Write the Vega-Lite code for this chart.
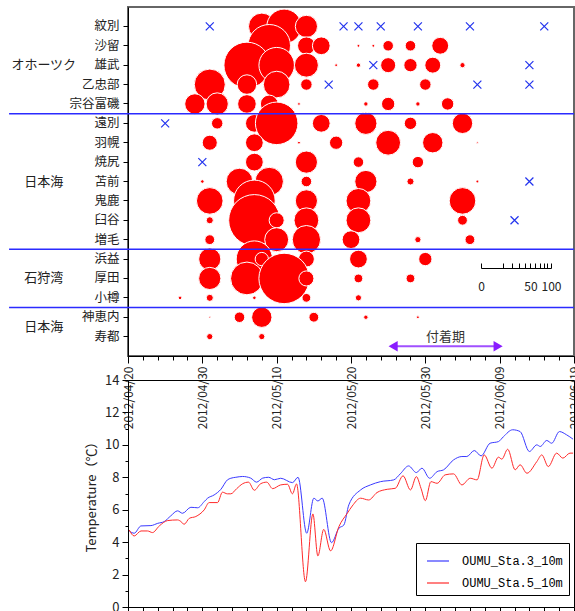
{
  "$schema": "https://vega.github.io/schema/vega-lite/v6.json",
  "padding": {"left": 7, "top": 6, "right": 0, "bottom": 0},
  "bounds": "flush",
  "spacing": 24,
  "resolve": {"legend": {"color": "independent", "size": "independent"}},
  "config": {
    "font": "Noto Sans CJK JP",
    "view": {"stroke": null},
    "axis": {"domainColor": "#000", "tickColor": "#000", "labelColor": "#222", "grid": false, "labelFont": "Noto Sans CJK JP", "titleFont": "Noto Sans CJK JP", "labelOverlap": false}
  },
  "datasets": {
    "catch": [
      {"station": "紋別", "date": "2012/05/08", "value": 18.4},
      {"station": "紋別", "date": "2012/05/11", "value": 31},
      {"station": "紋別", "date": "2012/05/14", "value": 12.8},
      {"station": "沙留", "date": "2012/05/09", "value": 47},
      {"station": "沙留", "date": "2012/05/14", "value": 8.2},
      {"station": "沙留", "date": "2012/05/16", "value": 8.2},
      {"station": "沙留", "date": "2012/05/21", "value": 0.2},
      {"station": "沙留", "date": "2012/05/23", "value": 0.2},
      {"station": "沙留", "date": "2012/05/25", "value": 2.9},
      {"station": "沙留", "date": "2012/05/28", "value": 2.9},
      {"station": "沙留", "date": "2012/06/01", "value": 7.4},
      {"station": "雄武", "date": "2012/05/06", "value": 55},
      {"station": "雄武", "date": "2012/05/10", "value": 32.7},
      {"station": "雄武", "date": "2012/05/14", "value": 14.9},
      {"station": "雄武", "date": "2012/05/18", "value": 0.2},
      {"station": "雄武", "date": "2012/05/21", "value": 0.5},
      {"station": "雄武", "date": "2012/05/25", "value": 5.9},
      {"station": "雄武", "date": "2012/05/28", "value": 4.6},
      {"station": "雄武", "date": "2012/05/31", "value": 6.6},
      {"station": "雄武", "date": "2012/06/04", "value": 0.7},
      {"station": "乙忠部", "date": "2012/05/01", "value": 25},
      {"station": "乙忠部", "date": "2012/05/06", "value": 9.9},
      {"station": "乙忠部", "date": "2012/05/10", "value": 18.4},
      {"station": "乙忠部", "date": "2012/05/14", "value": 3.4},
      {"station": "乙忠部", "date": "2012/05/23", "value": 3.4},
      {"station": "乙忠部", "date": "2012/05/30", "value": 3.4},
      {"station": "宗谷富磯", "date": "2012/04/29", "value": 10.8},
      {"station": "宗谷富磯", "date": "2012/05/02", "value": 12.8},
      {"station": "宗谷富磯", "date": "2012/05/06", "value": 9},
      {"station": "宗谷富磯", "date": "2012/05/09", "value": 8.2},
      {"station": "宗谷富磯", "date": "2012/05/13", "value": 0.2},
      {"station": "宗谷富磯", "date": "2012/05/22", "value": 0.5},
      {"station": "宗谷富磯", "date": "2012/05/25", "value": 4.6},
      {"station": "宗谷富磯", "date": "2012/05/29", "value": 0.5},
      {"station": "宗谷富磯", "date": "2012/06/02", "value": 4},
      {"station": "遠別", "date": "2012/05/02", "value": 3.4},
      {"station": "遠別", "date": "2012/05/07", "value": 8.2},
      {"station": "遠別", "date": "2012/05/10", "value": 47},
      {"station": "遠別", "date": "2012/05/16", "value": 8.2},
      {"station": "遠別", "date": "2012/05/22", "value": 12.8},
      {"station": "遠別", "date": "2012/05/28", "value": 4},
      {"station": "遠別", "date": "2012/06/04", "value": 10.8},
      {"station": "羽幌", "date": "2012/05/01", "value": 5.9},
      {"station": "羽幌", "date": "2012/05/07", "value": 8.2},
      {"station": "羽幌", "date": "2012/05/13", "value": 0.2},
      {"station": "羽幌", "date": "2012/05/18", "value": 4.6},
      {"station": "羽幌", "date": "2012/05/25", "value": 16},
      {"station": "羽幌", "date": "2012/05/31", "value": 10.8},
      {"station": "羽幌", "date": "2012/06/06", "value": 0.08},
      {"station": "焼尻", "date": "2012/05/07", "value": 8.2},
      {"station": "焼尻", "date": "2012/05/14", "value": 12.8},
      {"station": "焼尻", "date": "2012/05/21", "value": 2.9},
      {"station": "焼尻", "date": "2012/05/29", "value": 3.4},
      {"station": "苫前", "date": "2012/04/30", "value": 0.33},
      {"station": "苫前", "date": "2012/05/05", "value": 18.4},
      {"station": "苫前", "date": "2012/05/09", "value": 20.9},
      {"station": "苫前", "date": "2012/05/14", "value": 2.9},
      {"station": "苫前", "date": "2012/05/22", "value": 12.8},
      {"station": "苫前", "date": "2012/05/28", "value": 1.3},
      {"station": "苫前", "date": "2012/06/06", "value": 0.2},
      {"station": "鬼鹿", "date": "2012/05/01", "value": 18.4},
      {"station": "鬼鹿", "date": "2012/05/07", "value": 45},
      {"station": "鬼鹿", "date": "2012/05/14", "value": 12.8},
      {"station": "鬼鹿", "date": "2012/05/21", "value": 16},
      {"station": "鬼鹿", "date": "2012/06/04", "value": 18.4},
      {"station": "臼谷", "date": "2012/05/01", "value": 1.3},
      {"station": "臼谷", "date": "2012/05/07", "value": 68.6},
      {"station": "臼谷", "date": "2012/05/10", "value": 5.9},
      {"station": "臼谷", "date": "2012/05/14", "value": 16},
      {"station": "臼谷", "date": "2012/05/21", "value": 16},
      {"station": "臼谷", "date": "2012/06/04", "value": 2.5},
      {"station": "増毛", "date": "2012/05/01", "value": 2.5},
      {"station": "増毛", "date": "2012/05/10", "value": 14.9},
      {"station": "増毛", "date": "2012/05/14", "value": 20.9},
      {"station": "増毛", "date": "2012/05/20", "value": 8.2},
      {"station": "増毛", "date": "2012/05/29", "value": 1},
      {"station": "増毛", "date": "2012/06/05", "value": 2.5},
      {"station": "浜益", "date": "2012/05/01", "value": 12.8},
      {"station": "浜益", "date": "2012/05/07", "value": 34.3},
      {"station": "浜益", "date": "2012/05/08", "value": 4.6},
      {"station": "浜益", "date": "2012/05/14", "value": 6.6},
      {"station": "浜益", "date": "2012/05/21", "value": 8.2},
      {"station": "浜益", "date": "2012/05/30", "value": 4.6},
      {"station": "厚田", "date": "2012/05/01", "value": 12.8},
      {"station": "厚田", "date": "2012/05/06", "value": 27.9},
      {"station": "厚田", "date": "2012/05/11", "value": 66},
      {"station": "厚田", "date": "2012/05/14", "value": 5.9},
      {"station": "厚田", "date": "2012/05/21", "value": 2},
      {"station": "厚田", "date": "2012/05/28", "value": 2},
      {"station": "小樽", "date": "2012/04/27", "value": 0.33},
      {"station": "小樽", "date": "2012/05/01", "value": 1.3},
      {"station": "小樽", "date": "2012/05/07", "value": 0.33},
      {"station": "小樽", "date": "2012/05/14", "value": 2},
      {"station": "小樽", "date": "2012/05/21", "value": 1},
      {"station": "神恵内", "date": "2012/05/01", "value": 0.08},
      {"station": "神恵内", "date": "2012/05/05", "value": 2.9},
      {"station": "神恵内", "date": "2012/05/08", "value": 10.8},
      {"station": "神恵内", "date": "2012/05/15", "value": 2.5},
      {"station": "神恵内", "date": "2012/05/22", "value": 0.5},
      {"station": "神恵内", "date": "2012/05/29", "value": 0.2},
      {"station": "寿都", "date": "2012/05/01", "value": 1},
      {"station": "寿都", "date": "2012/05/08", "value": 1}
    ],
    "none": [
      {"station": "紋別", "date": "2012/05/01"},
      {"station": "紋別", "date": "2012/05/19"},
      {"station": "紋別", "date": "2012/05/21"},
      {"station": "紋別", "date": "2012/05/24"},
      {"station": "紋別", "date": "2012/05/29"},
      {"station": "紋別", "date": "2012/06/05"},
      {"station": "紋別", "date": "2012/06/15"},
      {"station": "雄武", "date": "2012/05/23"},
      {"station": "雄武", "date": "2012/06/13"},
      {"station": "乙忠部", "date": "2012/05/17"},
      {"station": "乙忠部", "date": "2012/06/06"},
      {"station": "乙忠部", "date": "2012/06/13"},
      {"station": "遠別", "date": "2012/04/25"},
      {"station": "焼尻", "date": "2012/04/30"},
      {"station": "苫前", "date": "2012/06/13"},
      {"station": "臼谷", "date": "2012/06/11"}
    ],
    "temp": [
      {"series": "OUMU_Sta.3_10m", "t": "2012/04/20 04:00", "temp": 4.69},
      {"series": "OUMU_Sta.3_10m", "t": "2012/04/20 20:00", "temp": 4.55},
      {"series": "OUMU_Sta.3_10m", "t": "2012/04/21 18:00", "temp": 5.0},
      {"series": "OUMU_Sta.3_10m", "t": "2012/04/23 02:00", "temp": 5.02},
      {"series": "OUMU_Sta.3_10m", "t": "2012/04/24 00:00", "temp": 5.16},
      {"series": "OUMU_Sta.3_10m", "t": "2012/04/24 21:00", "temp": 5.27},
      {"series": "OUMU_Sta.3_10m", "t": "2012/04/25 18:00", "temp": 5.62},
      {"series": "OUMU_Sta.3_10m", "t": "2012/04/26 16:00", "temp": 5.93},
      {"series": "OUMU_Sta.3_10m", "t": "2012/04/27 08:00", "temp": 5.78},
      {"series": "OUMU_Sta.3_10m", "t": "2012/04/28 11:00", "temp": 6.15},
      {"series": "OUMU_Sta.3_10m", "t": "2012/04/29 09:00", "temp": 6.12},
      {"series": "OUMU_Sta.3_10m", "t": "2012/04/30 06:00", "temp": 6.5},
      {"series": "OUMU_Sta.3_10m", "t": "2012/04/30 17:00", "temp": 6.71},
      {"series": "OUMU_Sta.3_10m", "t": "2012/05/01 14:00", "temp": 6.91},
      {"series": "OUMU_Sta.3_10m", "t": "2012/05/02 12:00", "temp": 7.26},
      {"series": "OUMU_Sta.3_10m", "t": "2012/05/03 09:00", "temp": 7.84},
      {"series": "OUMU_Sta.3_10m", "t": "2012/05/03 20:00", "temp": 7.94},
      {"series": "OUMU_Sta.3_10m", "t": "2012/05/04 12:00", "temp": 8.0},
      {"series": "OUMU_Sta.3_10m", "t": "2012/05/05 10:00", "temp": 8.05},
      {"series": "OUMU_Sta.3_10m", "t": "2012/05/06 12:00", "temp": 7.95},
      {"series": "OUMU_Sta.3_10m", "t": "2012/05/07 07:00", "temp": 7.7},
      {"series": "OUMU_Sta.3_10m", "t": "2012/05/08 03:00", "temp": 7.95},
      {"series": "OUMU_Sta.3_10m", "t": "2012/05/08 22:00", "temp": 8.0},
      {"series": "OUMU_Sta.3_10m", "t": "2012/05/09 17:00", "temp": 7.85},
      {"series": "OUMU_Sta.3_10m", "t": "2012/05/10 13:00", "temp": 7.94},
      {"series": "OUMU_Sta.3_10m", "t": "2012/05/12 03:00", "temp": 7.67},
      {"series": "OUMU_Sta.3_10m", "t": "2012/05/12 21:00", "temp": 8.0},
      {"series": "OUMU_Sta.3_10m", "t": "2012/05/14 01:00", "temp": 4.55},
      {"series": "OUMU_Sta.3_10m", "t": "2012/05/15 00:00", "temp": 6.71},
      {"series": "OUMU_Sta.3_10m", "t": "2012/05/15 13:00", "temp": 6.54},
      {"series": "OUMU_Sta.3_10m", "t": "2012/05/16 03:00", "temp": 6.71},
      {"series": "OUMU_Sta.3_10m", "t": "2012/05/17 09:00", "temp": 3.97},
      {"series": "OUMU_Sta.3_10m", "t": "2012/05/18 09:00", "temp": 4.86},
      {"series": "OUMU_Sta.3_10m", "t": "2012/05/19 01:00", "temp": 5.06},
      {"series": "OUMU_Sta.3_10m", "t": "2012/05/19 17:00", "temp": 6.3},
      {"series": "OUMU_Sta.3_10m", "t": "2012/05/21 07:00", "temp": 7.22},
      {"series": "OUMU_Sta.3_10m", "t": "2012/05/22 15:00", "temp": 7.53},
      {"series": "OUMU_Sta.3_10m", "t": "2012/05/23 23:00", "temp": 7.73},
      {"series": "OUMU_Sta.3_10m", "t": "2012/05/25 18:00", "temp": 7.84},
      {"series": "OUMU_Sta.3_10m", "t": "2012/05/26 15:00", "temp": 8.21},
      {"series": "OUMU_Sta.3_10m", "t": "2012/05/27 18:00", "temp": 8.7},
      {"series": "OUMU_Sta.3_10m", "t": "2012/05/28 19:00", "temp": 8.29},
      {"series": "OUMU_Sta.3_10m", "t": "2012/05/29 13:00", "temp": 8.56},
      {"series": "OUMU_Sta.3_10m", "t": "2012/05/30 14:00", "temp": 7.94},
      {"series": "OUMU_Sta.3_10m", "t": "2012/05/31 14:00", "temp": 8.35},
      {"series": "OUMU_Sta.3_10m", "t": "2012/06/01 11:00", "temp": 8.46},
      {"series": "OUMU_Sta.3_10m", "t": "2012/06/02 19:00", "temp": 9.07},
      {"series": "OUMU_Sta.3_10m", "t": "2012/06/03 22:00", "temp": 9.28},
      {"series": "OUMU_Sta.3_10m", "t": "2012/06/04 14:00", "temp": 9.28},
      {"series": "OUMU_Sta.3_10m", "t": "2012/06/05 14:00", "temp": 9.65},
      {"series": "OUMU_Sta.3_10m", "t": "2012/06/06 12:00", "temp": 9.32},
      {"series": "OUMU_Sta.3_10m", "t": "2012/06/07 17:00", "temp": 10.1},
      {"series": "OUMU_Sta.3_10m", "t": "2012/06/08 20:00", "temp": 10.2},
      {"series": "OUMU_Sta.3_10m", "t": "2012/06/09 12:00", "temp": 10.5},
      {"series": "OUMU_Sta.3_10m", "t": "2012/06/10 18:00", "temp": 10.93},
      {"series": "OUMU_Sta.3_10m", "t": "2012/06/11 18:00", "temp": 10.82},
      {"series": "OUMU_Sta.3_10m", "t": "2012/06/13 00:00", "temp": 9.59},
      {"series": "OUMU_Sta.3_10m", "t": "2012/06/14 00:00", "temp": 10.0},
      {"series": "OUMU_Sta.3_10m", "t": "2012/06/14 11:00", "temp": 9.9},
      {"series": "OUMU_Sta.3_10m", "t": "2012/06/15 08:00", "temp": 10.27},
      {"series": "OUMU_Sta.3_10m", "t": "2012/06/16 00:00", "temp": 10.1},
      {"series": "OUMU_Sta.3_10m", "t": "2012/06/17 01:00", "temp": 10.82},
      {"series": "OUMU_Sta.3_10m", "t": "2012/06/18 00:00", "temp": 10.62},
      {"series": "OUMU_Sta.3_10m", "t": "2012/06/18 21:00", "temp": 10.35},
      {"series": "OUMU_Sta.5_10m", "t": "2012/04/20 04:00", "temp": 4.75},
      {"series": "OUMU_Sta.5_10m", "t": "2012/04/20 20:00", "temp": 4.38},
      {"series": "OUMU_Sta.5_10m", "t": "2012/04/21 18:00", "temp": 4.69},
      {"series": "OUMU_Sta.5_10m", "t": "2012/04/22 15:00", "temp": 4.69},
      {"series": "OUMU_Sta.5_10m", "t": "2012/04/23 07:00", "temp": 4.59},
      {"series": "OUMU_Sta.5_10m", "t": "2012/04/24 05:00", "temp": 5.0},
      {"series": "OUMU_Sta.5_10m", "t": "2012/04/25 08:00", "temp": 5.33},
      {"series": "OUMU_Sta.5_10m", "t": "2012/04/26 16:00", "temp": 5.37},
      {"series": "OUMU_Sta.5_10m", "t": "2012/04/27 03:00", "temp": 5.27},
      {"series": "OUMU_Sta.5_10m", "t": "2012/04/27 13:00", "temp": 5.1},
      {"series": "OUMU_Sta.5_10m", "t": "2012/04/28 06:00", "temp": 5.47},
      {"series": "OUMU_Sta.5_10m", "t": "2012/04/29 03:00", "temp": 5.58},
      {"series": "OUMU_Sta.5_10m", "t": "2012/04/30 06:00", "temp": 5.99},
      {"series": "OUMU_Sta.5_10m", "t": "2012/04/30 22:00", "temp": 6.44},
      {"series": "OUMU_Sta.5_10m", "t": "2012/05/02 01:00", "temp": 6.44},
      {"series": "OUMU_Sta.5_10m", "t": "2012/05/02 17:00", "temp": 7.08},
      {"series": "OUMU_Sta.5_10m", "t": "2012/05/03 09:00", "temp": 6.98},
      {"series": "OUMU_Sta.5_10m", "t": "2012/05/03 20:00", "temp": 6.98},
      {"series": "OUMU_Sta.5_10m", "t": "2012/05/04 15:00", "temp": 7.3},
      {"series": "OUMU_Sta.5_10m", "t": "2012/05/05 10:00", "temp": 7.6},
      {"series": "OUMU_Sta.5_10m", "t": "2012/05/06 05:00", "temp": 7.7},
      {"series": "OUMU_Sta.5_10m", "t": "2012/05/07 00:00", "temp": 7.2},
      {"series": "OUMU_Sta.5_10m", "t": "2012/05/07 20:00", "temp": 7.6},
      {"series": "OUMU_Sta.5_10m", "t": "2012/05/08 16:00", "temp": 7.7},
      {"series": "OUMU_Sta.5_10m", "t": "2012/05/09 11:00", "temp": 7.3},
      {"series": "OUMU_Sta.5_10m", "t": "2012/05/10 13:00", "temp": 7.53},
      {"series": "OUMU_Sta.5_10m", "t": "2012/05/11 11:00", "temp": 7.57},
      {"series": "OUMU_Sta.5_10m", "t": "2012/05/12 03:00", "temp": 6.98},
      {"series": "OUMU_Sta.5_10m", "t": "2012/05/12 16:00", "temp": 7.59},
      {"series": "OUMU_Sta.5_10m", "t": "2012/05/13 21:00", "temp": 1.56},
      {"series": "OUMU_Sta.5_10m", "t": "2012/05/14 21:00", "temp": 5.74},
      {"series": "OUMU_Sta.5_10m", "t": "2012/05/15 13:00", "temp": 3.15},
      {"series": "OUMU_Sta.5_10m", "t": "2012/05/16 08:00", "temp": 4.79},
      {"series": "OUMU_Sta.5_10m", "t": "2012/05/17 06:00", "temp": 3.46},
      {"series": "OUMU_Sta.5_10m", "t": "2012/05/18 09:00", "temp": 4.96},
      {"series": "OUMU_Sta.5_10m", "t": "2012/05/19 12:00", "temp": 5.78},
      {"series": "OUMU_Sta.5_10m", "t": "2012/05/20 04:00", "temp": 6.23},
      {"series": "OUMU_Sta.5_10m", "t": "2012/05/21 07:00", "temp": 6.71},
      {"series": "OUMU_Sta.5_10m", "t": "2012/05/22 09:00", "temp": 6.6},
      {"series": "OUMU_Sta.5_10m", "t": "2012/05/23 12:00", "temp": 7.06},
      {"series": "OUMU_Sta.5_10m", "t": "2012/05/24 21:00", "temp": 7.26},
      {"series": "OUMU_Sta.5_10m", "t": "2012/05/25 23:00", "temp": 7.32},
      {"series": "OUMU_Sta.5_10m", "t": "2012/05/27 00:00", "temp": 8.09},
      {"series": "OUMU_Sta.5_10m", "t": "2012/05/28 00:00", "temp": 7.22},
      {"series": "OUMU_Sta.5_10m", "t": "2012/05/28 19:00", "temp": 8.04},
      {"series": "OUMU_Sta.5_10m", "t": "2012/05/29 10:00", "temp": 7.32},
      {"series": "OUMU_Sta.5_10m", "t": "2012/05/30 00:00", "temp": 6.56},
      {"series": "OUMU_Sta.5_10m", "t": "2012/05/30 18:00", "temp": 7.73},
      {"series": "OUMU_Sta.5_10m", "t": "2012/05/31 14:00", "temp": 7.63},
      {"series": "OUMU_Sta.5_10m", "t": "2012/06/01 16:00", "temp": 8.15},
      {"series": "OUMU_Sta.5_10m", "t": "2012/06/02 19:00", "temp": 8.21},
      {"series": "OUMU_Sta.5_10m", "t": "2012/06/03 22:00", "temp": 7.53},
      {"series": "OUMU_Sta.5_10m", "t": "2012/06/05 01:00", "temp": 7.94},
      {"series": "OUMU_Sta.5_10m", "t": "2012/06/05 23:00", "temp": 7.84},
      {"series": "OUMU_Sta.5_10m", "t": "2012/06/06 22:00", "temp": 9.38},
      {"series": "OUMU_Sta.5_10m", "t": "2012/06/07 23:00", "temp": 8.56},
      {"series": "OUMU_Sta.5_10m", "t": "2012/06/08 20:00", "temp": 9.24},
      {"series": "OUMU_Sta.5_10m", "t": "2012/06/09 07:00", "temp": 9.12},
      {"series": "OUMU_Sta.5_10m", "t": "2012/06/10 02:00", "temp": 9.73},
      {"series": "OUMU_Sta.5_10m", "t": "2012/06/11 02:00", "temp": 8.46},
      {"series": "OUMU_Sta.5_10m", "t": "2012/06/11 18:00", "temp": 8.77},
      {"series": "OUMU_Sta.5_10m", "t": "2012/06/12 16:00", "temp": 8.25},
      {"series": "OUMU_Sta.5_10m", "t": "2012/06/14 00:00", "temp": 8.97},
      {"series": "OUMU_Sta.5_10m", "t": "2012/06/14 16:00", "temp": 9.38},
      {"series": "OUMU_Sta.5_10m", "t": "2012/06/15 13:00", "temp": 8.66},
      {"series": "OUMU_Sta.5_10m", "t": "2012/06/16 16:00", "temp": 9.49},
      {"series": "OUMU_Sta.5_10m", "t": "2012/06/17 12:00", "temp": 9.18},
      {"series": "OUMU_Sta.5_10m", "t": "2012/06/18 11:00", "temp": 9.49},
      {"series": "OUMU_Sta.5_10m", "t": "2012/06/18 21:00", "temp": 9.49}
    ]
  },
  "vconcat": [
    {
      "width": 446,
      "height": 349,
      "view": {"stroke": "#666", "strokeWidth": 2},
      "layer": [
        {
          "layer": [
            {
              "data": {"name": "catch"},
              "mark": {"type": "point", "filled": true, "shape": "circle", "color": "#ff0000", "stroke": "#ffffff", "strokeWidth": 1, "opacity": 1},
              "encoding": {
                "x": {"field": "date", "type": "temporal",
                  "scale": {"domain": [{"year": 2012, "month": 4, "date": 20}, {"year": 2012, "month": 6, "date": 19}], "nice": false},
                  "axis": {"title": null, "values": [{"year": 2012, "month": 4, "date": 20}, {"year": 2012, "month": 4, "date": 22}, {"year": 2012, "month": 4, "date": 24}, {"year": 2012, "month": 4, "date": 26}, {"year": 2012, "month": 4, "date": 28}, {"year": 2012, "month": 4, "date": 30}, {"year": 2012, "month": 5, "date": 2}, {"year": 2012, "month": 5, "date": 4}, {"year": 2012, "month": 5, "date": 6}, {"year": 2012, "month": 5, "date": 8}, {"year": 2012, "month": 5, "date": 10}, {"year": 2012, "month": 5, "date": 12}, {"year": 2012, "month": 5, "date": 14}, {"year": 2012, "month": 5, "date": 16}, {"year": 2012, "month": 5, "date": 18}, {"year": 2012, "month": 5, "date": 20}, {"year": 2012, "month": 5, "date": 22}, {"year": 2012, "month": 5, "date": 24}, {"year": 2012, "month": 5, "date": 26}, {"year": 2012, "month": 5, "date": 28}, {"year": 2012, "month": 5, "date": 30}, {"year": 2012, "month": 6, "date": 1}, {"year": 2012, "month": 6, "date": 3}, {"year": 2012, "month": 6, "date": 5}, {"year": 2012, "month": 6, "date": 7}, {"year": 2012, "month": 6, "date": 9}, {"year": 2012, "month": 6, "date": 11}, {"year": 2012, "month": 6, "date": 13}, {"year": 2012, "month": 6, "date": 15}, {"year": 2012, "month": 6, "date": 17}, {"year": 2012, "month": 6, "date": 19}], "labelExpr": "indexof(['04/20','04/30','05/10','05/20','05/30','06/09','06/19'], timeFormat(datum.value, '%m/%d')) >= 0 ? timeFormat(datum.value, '%Y/%m/%d') : ''", "tickSize": {"condition": {"test": "indexof(['04/20','04/30','05/10','05/20','05/30','06/09','06/19'], timeFormat(datum.value, '%m/%d')) >= 0", "value": 7}, "value": 4}, "labelAngle": 270, "labelFontSize": 12, "labelPadding": 3, "labelOverlap": false, "labelFlush": false, "labelBound": false}
                },
                "y": {"field": "station", "type": "nominal",
                  "scale": {"type": "band", "paddingInner": 0, "paddingOuter": 0.5, "domain": ["紋別", "沙留", "雄武", "乙忠部", "宗谷富磯", "遠別", "羽幌", "焼尻", "苫前", "鬼鹿", "臼谷", "増毛", "浜益", "厚田", "小樽", "神恵内", "寿都"]},
                  "axis": {"title": null, "labelFontSize": 12.5, "labelPadding": 4, "tickSize": 5, "labelColor": "#222"}
                },
                "size": {"field": "value", "type": "quantitative", "scale": {"domain": [0, 100], "range": [0, 3848], "zero": true}, "legend": null}
              }
            },
            {
              "data": {"name": "none"},
              "mark": {"type": "point", "shape": "M-1,-1L1,1M-1,1L1,-1", "filled": false, "stroke": "#2233ee", "strokeWidth": 1.2, "size": 64, "opacity": 1},
              "encoding": {
                "x": {"field": "date", "type": "temporal",
                  "axis": {"title": null, "values": [{"year": 2012, "month": 4, "date": 20}, {"year": 2012, "month": 4, "date": 22}, {"year": 2012, "month": 4, "date": 24}, {"year": 2012, "month": 4, "date": 26}, {"year": 2012, "month": 4, "date": 28}, {"year": 2012, "month": 4, "date": 30}, {"year": 2012, "month": 5, "date": 2}, {"year": 2012, "month": 5, "date": 4}, {"year": 2012, "month": 5, "date": 6}, {"year": 2012, "month": 5, "date": 8}, {"year": 2012, "month": 5, "date": 10}, {"year": 2012, "month": 5, "date": 12}, {"year": 2012, "month": 5, "date": 14}, {"year": 2012, "month": 5, "date": 16}, {"year": 2012, "month": 5, "date": 18}, {"year": 2012, "month": 5, "date": 20}, {"year": 2012, "month": 5, "date": 22}, {"year": 2012, "month": 5, "date": 24}, {"year": 2012, "month": 5, "date": 26}, {"year": 2012, "month": 5, "date": 28}, {"year": 2012, "month": 5, "date": 30}, {"year": 2012, "month": 6, "date": 1}, {"year": 2012, "month": 6, "date": 3}, {"year": 2012, "month": 6, "date": 5}, {"year": 2012, "month": 6, "date": 7}, {"year": 2012, "month": 6, "date": 9}, {"year": 2012, "month": 6, "date": 11}, {"year": 2012, "month": 6, "date": 13}, {"year": 2012, "month": 6, "date": 15}, {"year": 2012, "month": 6, "date": 17}, {"year": 2012, "month": 6, "date": 19}], "labelExpr": "indexof(['04/20','04/30','05/10','05/20','05/30','06/09','06/19'], timeFormat(datum.value, '%m/%d')) >= 0 ? timeFormat(datum.value, '%Y/%m/%d') : ''", "tickSize": {"condition": {"test": "indexof(['04/20','04/30','05/10','05/20','05/30','06/09','06/19'], timeFormat(datum.value, '%m/%d')) >= 0", "value": 7}, "value": 4}, "labelAngle": 270, "labelFontSize": 12, "labelPadding": 3, "labelOverlap": false, "labelFlush": false, "labelBound": false}
                },
                "y": {"field": "station", "type": "nominal"}
              }
            },
            {
              "data": {"values": [{"station": "遠別"}, {"station": "浜益"}, {"station": "神恵内"}]},
              "mark": {"type": "rule", "color": "#2b2bff", "strokeWidth": 1.5},
              "encoding": {
                "x": {"datum": {"year": 2012, "month": 4, "date": 4}, "type": "temporal",
                  "axis": {"title": null, "values": [{"year": 2012, "month": 4, "date": 20}, {"year": 2012, "month": 4, "date": 22}, {"year": 2012, "month": 4, "date": 24}, {"year": 2012, "month": 4, "date": 26}, {"year": 2012, "month": 4, "date": 28}, {"year": 2012, "month": 4, "date": 30}, {"year": 2012, "month": 5, "date": 2}, {"year": 2012, "month": 5, "date": 4}, {"year": 2012, "month": 5, "date": 6}, {"year": 2012, "month": 5, "date": 8}, {"year": 2012, "month": 5, "date": 10}, {"year": 2012, "month": 5, "date": 12}, {"year": 2012, "month": 5, "date": 14}, {"year": 2012, "month": 5, "date": 16}, {"year": 2012, "month": 5, "date": 18}, {"year": 2012, "month": 5, "date": 20}, {"year": 2012, "month": 5, "date": 22}, {"year": 2012, "month": 5, "date": 24}, {"year": 2012, "month": 5, "date": 26}, {"year": 2012, "month": 5, "date": 28}, {"year": 2012, "month": 5, "date": 30}, {"year": 2012, "month": 6, "date": 1}, {"year": 2012, "month": 6, "date": 3}, {"year": 2012, "month": 6, "date": 5}, {"year": 2012, "month": 6, "date": 7}, {"year": 2012, "month": 6, "date": 9}, {"year": 2012, "month": 6, "date": 11}, {"year": 2012, "month": 6, "date": 13}, {"year": 2012, "month": 6, "date": 15}, {"year": 2012, "month": 6, "date": 17}, {"year": 2012, "month": 6, "date": 19}], "labelExpr": "indexof(['04/20','04/30','05/10','05/20','05/30','06/09','06/19'], timeFormat(datum.value, '%m/%d')) >= 0 ? timeFormat(datum.value, '%Y/%m/%d') : ''", "tickSize": {"condition": {"test": "indexof(['04/20','04/30','05/10','05/20','05/30','06/09','06/19'], timeFormat(datum.value, '%m/%d')) >= 0", "value": 7}, "value": 4}, "labelAngle": 270, "labelFontSize": 12, "labelPadding": 3, "labelOverlap": false, "labelFlush": false, "labelBound": false}
                },
                "x2": {"datum": {"year": 2012, "month": 6, "date": 19}},
                "y": {"field": "station", "type": "nominal", "bandPosition": 0}
              }
            },
            {
              "data": {"values": [{"region": "オホーツク", "station": "雄武"}, {"region": "日本海", "station": "苫前"}, {"region": "石狩湾", "station": "厚田"}]},
              "mark": {"type": "text", "fontSize": 13, "color": "#222", "align": "center", "baseline": "middle"},
              "encoding": {
                "x": {"datum": {"year": 2012, "month": 4, "date": 8, "hours": 16}, "type": "temporal",
                  "axis": {"title": null, "values": [{"year": 2012, "month": 4, "date": 20}, {"year": 2012, "month": 4, "date": 22}, {"year": 2012, "month": 4, "date": 24}, {"year": 2012, "month": 4, "date": 26}, {"year": 2012, "month": 4, "date": 28}, {"year": 2012, "month": 4, "date": 30}, {"year": 2012, "month": 5, "date": 2}, {"year": 2012, "month": 5, "date": 4}, {"year": 2012, "month": 5, "date": 6}, {"year": 2012, "month": 5, "date": 8}, {"year": 2012, "month": 5, "date": 10}, {"year": 2012, "month": 5, "date": 12}, {"year": 2012, "month": 5, "date": 14}, {"year": 2012, "month": 5, "date": 16}, {"year": 2012, "month": 5, "date": 18}, {"year": 2012, "month": 5, "date": 20}, {"year": 2012, "month": 5, "date": 22}, {"year": 2012, "month": 5, "date": 24}, {"year": 2012, "month": 5, "date": 26}, {"year": 2012, "month": 5, "date": 28}, {"year": 2012, "month": 5, "date": 30}, {"year": 2012, "month": 6, "date": 1}, {"year": 2012, "month": 6, "date": 3}, {"year": 2012, "month": 6, "date": 5}, {"year": 2012, "month": 6, "date": 7}, {"year": 2012, "month": 6, "date": 9}, {"year": 2012, "month": 6, "date": 11}, {"year": 2012, "month": 6, "date": 13}, {"year": 2012, "month": 6, "date": 15}, {"year": 2012, "month": 6, "date": 17}, {"year": 2012, "month": 6, "date": 19}], "labelExpr": "indexof(['04/20','04/30','05/10','05/20','05/30','06/09','06/19'], timeFormat(datum.value, '%m/%d')) >= 0 ? timeFormat(datum.value, '%Y/%m/%d') : ''", "tickSize": {"condition": {"test": "indexof(['04/20','04/30','05/10','05/20','05/30','06/09','06/19'], timeFormat(datum.value, '%m/%d')) >= 0", "value": 7}, "value": 4}, "labelAngle": 270, "labelFontSize": 12, "labelPadding": 3, "labelOverlap": false, "labelFlush": false, "labelBound": false}
                },
                "y": {"field": "station", "type": "nominal"},
                "text": {"field": "region"}
              }
            },
            {
              "data": {"values": [{"region": "日本海", "station": "寿都"}]},
              "mark": {"type": "text", "fontSize": 13, "color": "#222", "align": "center", "baseline": "middle"},
              "encoding": {
                "x": {"datum": {"year": 2012, "month": 4, "date": 8, "hours": 16}, "type": "temporal",
                  "axis": {"title": null, "values": [{"year": 2012, "month": 4, "date": 20}, {"year": 2012, "month": 4, "date": 22}, {"year": 2012, "month": 4, "date": 24}, {"year": 2012, "month": 4, "date": 26}, {"year": 2012, "month": 4, "date": 28}, {"year": 2012, "month": 4, "date": 30}, {"year": 2012, "month": 5, "date": 2}, {"year": 2012, "month": 5, "date": 4}, {"year": 2012, "month": 5, "date": 6}, {"year": 2012, "month": 5, "date": 8}, {"year": 2012, "month": 5, "date": 10}, {"year": 2012, "month": 5, "date": 12}, {"year": 2012, "month": 5, "date": 14}, {"year": 2012, "month": 5, "date": 16}, {"year": 2012, "month": 5, "date": 18}, {"year": 2012, "month": 5, "date": 20}, {"year": 2012, "month": 5, "date": 22}, {"year": 2012, "month": 5, "date": 24}, {"year": 2012, "month": 5, "date": 26}, {"year": 2012, "month": 5, "date": 28}, {"year": 2012, "month": 5, "date": 30}, {"year": 2012, "month": 6, "date": 1}, {"year": 2012, "month": 6, "date": 3}, {"year": 2012, "month": 6, "date": 5}, {"year": 2012, "month": 6, "date": 7}, {"year": 2012, "month": 6, "date": 9}, {"year": 2012, "month": 6, "date": 11}, {"year": 2012, "month": 6, "date": 13}, {"year": 2012, "month": 6, "date": 15}, {"year": 2012, "month": 6, "date": 17}, {"year": 2012, "month": 6, "date": 19}], "labelExpr": "indexof(['04/20','04/30','05/10','05/20','05/30','06/09','06/19'], timeFormat(datum.value, '%m/%d')) >= 0 ? timeFormat(datum.value, '%Y/%m/%d') : ''", "tickSize": {"condition": {"test": "indexof(['04/20','04/30','05/10','05/20','05/30','06/09','06/19'], timeFormat(datum.value, '%m/%d')) >= 0", "value": 7}, "value": 4}, "labelAngle": 270, "labelFontSize": 12, "labelPadding": 3, "labelOverlap": false, "labelFlush": false, "labelBound": false}
                },
                "y": {"field": "station", "type": "nominal", "bandPosition": 0},
                "text": {"field": "region"}
              }
            },
            {
              "data": {"values": [{"label": "付着期"}]},
              "mark": {"type": "rule", "color": "#a050ff", "strokeWidth": 2},
              "encoding": {
                "x": {"datum": {"year": 2012, "month": 5, "date": 25, "hours": 16}, "type": "temporal",
                  "axis": {"title": null, "values": [{"year": 2012, "month": 4, "date": 20}, {"year": 2012, "month": 4, "date": 22}, {"year": 2012, "month": 4, "date": 24}, {"year": 2012, "month": 4, "date": 26}, {"year": 2012, "month": 4, "date": 28}, {"year": 2012, "month": 4, "date": 30}, {"year": 2012, "month": 5, "date": 2}, {"year": 2012, "month": 5, "date": 4}, {"year": 2012, "month": 5, "date": 6}, {"year": 2012, "month": 5, "date": 8}, {"year": 2012, "month": 5, "date": 10}, {"year": 2012, "month": 5, "date": 12}, {"year": 2012, "month": 5, "date": 14}, {"year": 2012, "month": 5, "date": 16}, {"year": 2012, "month": 5, "date": 18}, {"year": 2012, "month": 5, "date": 20}, {"year": 2012, "month": 5, "date": 22}, {"year": 2012, "month": 5, "date": 24}, {"year": 2012, "month": 5, "date": 26}, {"year": 2012, "month": 5, "date": 28}, {"year": 2012, "month": 5, "date": 30}, {"year": 2012, "month": 6, "date": 1}, {"year": 2012, "month": 6, "date": 3}, {"year": 2012, "month": 6, "date": 5}, {"year": 2012, "month": 6, "date": 7}, {"year": 2012, "month": 6, "date": 9}, {"year": 2012, "month": 6, "date": 11}, {"year": 2012, "month": 6, "date": 13}, {"year": 2012, "month": 6, "date": 15}, {"year": 2012, "month": 6, "date": 17}, {"year": 2012, "month": 6, "date": 19}], "labelExpr": "indexof(['04/20','04/30','05/10','05/20','05/30','06/09','06/19'], timeFormat(datum.value, '%m/%d')) >= 0 ? timeFormat(datum.value, '%Y/%m/%d') : ''", "tickSize": {"condition": {"test": "indexof(['04/20','04/30','05/10','05/20','05/30','06/09','06/19'], timeFormat(datum.value, '%m/%d')) >= 0", "value": 7}, "value": 4}, "labelAngle": 270, "labelFontSize": 12, "labelPadding": 3, "labelOverlap": false, "labelFlush": false, "labelBound": false}
                },
                "x2": {"datum": {"year": 2012, "month": 6, "date": 8, "hours": 19}},
                "y": {"datum": "寿都", "type": "nominal", "bandPosition": 1}
              }
            },
            {
              "data": {"values": [{"label": "付着期"}]},
              "mark": {"type": "point", "shape": "triangle-left", "filled": true, "color": "#8a1cff", "size": 110, "opacity": 1},
              "encoding": {
                "x": {"datum": {"year": 2012, "month": 5, "date": 25, "hours": 16}, "type": "temporal",
                  "axis": {"title": null, "values": [{"year": 2012, "month": 4, "date": 20}, {"year": 2012, "month": 4, "date": 22}, {"year": 2012, "month": 4, "date": 24}, {"year": 2012, "month": 4, "date": 26}, {"year": 2012, "month": 4, "date": 28}, {"year": 2012, "month": 4, "date": 30}, {"year": 2012, "month": 5, "date": 2}, {"year": 2012, "month": 5, "date": 4}, {"year": 2012, "month": 5, "date": 6}, {"year": 2012, "month": 5, "date": 8}, {"year": 2012, "month": 5, "date": 10}, {"year": 2012, "month": 5, "date": 12}, {"year": 2012, "month": 5, "date": 14}, {"year": 2012, "month": 5, "date": 16}, {"year": 2012, "month": 5, "date": 18}, {"year": 2012, "month": 5, "date": 20}, {"year": 2012, "month": 5, "date": 22}, {"year": 2012, "month": 5, "date": 24}, {"year": 2012, "month": 5, "date": 26}, {"year": 2012, "month": 5, "date": 28}, {"year": 2012, "month": 5, "date": 30}, {"year": 2012, "month": 6, "date": 1}, {"year": 2012, "month": 6, "date": 3}, {"year": 2012, "month": 6, "date": 5}, {"year": 2012, "month": 6, "date": 7}, {"year": 2012, "month": 6, "date": 9}, {"year": 2012, "month": 6, "date": 11}, {"year": 2012, "month": 6, "date": 13}, {"year": 2012, "month": 6, "date": 15}, {"year": 2012, "month": 6, "date": 17}, {"year": 2012, "month": 6, "date": 19}], "labelExpr": "indexof(['04/20','04/30','05/10','05/20','05/30','06/09','06/19'], timeFormat(datum.value, '%m/%d')) >= 0 ? timeFormat(datum.value, '%Y/%m/%d') : ''", "tickSize": {"condition": {"test": "indexof(['04/20','04/30','05/10','05/20','05/30','06/09','06/19'], timeFormat(datum.value, '%m/%d')) >= 0", "value": 7}, "value": 4}, "labelAngle": 270, "labelFontSize": 12, "labelPadding": 3, "labelOverlap": false, "labelFlush": false, "labelBound": false}
                },
                "y": {"datum": "寿都", "type": "nominal", "bandPosition": 1}
              }
            },
            {
              "data": {"values": [{"label": "付着期"}]},
              "mark": {"type": "point", "shape": "triangle-right", "filled": true, "color": "#8a1cff", "size": 110, "opacity": 1},
              "encoding": {
                "x": {"datum": {"year": 2012, "month": 6, "date": 8, "hours": 19}, "type": "temporal",
                  "axis": {"title": null, "values": [{"year": 2012, "month": 4, "date": 20}, {"year": 2012, "month": 4, "date": 22}, {"year": 2012, "month": 4, "date": 24}, {"year": 2012, "month": 4, "date": 26}, {"year": 2012, "month": 4, "date": 28}, {"year": 2012, "month": 4, "date": 30}, {"year": 2012, "month": 5, "date": 2}, {"year": 2012, "month": 5, "date": 4}, {"year": 2012, "month": 5, "date": 6}, {"year": 2012, "month": 5, "date": 8}, {"year": 2012, "month": 5, "date": 10}, {"year": 2012, "month": 5, "date": 12}, {"year": 2012, "month": 5, "date": 14}, {"year": 2012, "month": 5, "date": 16}, {"year": 2012, "month": 5, "date": 18}, {"year": 2012, "month": 5, "date": 20}, {"year": 2012, "month": 5, "date": 22}, {"year": 2012, "month": 5, "date": 24}, {"year": 2012, "month": 5, "date": 26}, {"year": 2012, "month": 5, "date": 28}, {"year": 2012, "month": 5, "date": 30}, {"year": 2012, "month": 6, "date": 1}, {"year": 2012, "month": 6, "date": 3}, {"year": 2012, "month": 6, "date": 5}, {"year": 2012, "month": 6, "date": 7}, {"year": 2012, "month": 6, "date": 9}, {"year": 2012, "month": 6, "date": 11}, {"year": 2012, "month": 6, "date": 13}, {"year": 2012, "month": 6, "date": 15}, {"year": 2012, "month": 6, "date": 17}, {"year": 2012, "month": 6, "date": 19}], "labelExpr": "indexof(['04/20','04/30','05/10','05/20','05/30','06/09','06/19'], timeFormat(datum.value, '%m/%d')) >= 0 ? timeFormat(datum.value, '%Y/%m/%d') : ''", "tickSize": {"condition": {"test": "indexof(['04/20','04/30','05/10','05/20','05/30','06/09','06/19'], timeFormat(datum.value, '%m/%d')) >= 0", "value": 7}, "value": 4}, "labelAngle": 270, "labelFontSize": 12, "labelPadding": 3, "labelOverlap": false, "labelFlush": false, "labelBound": false}
                },
                "y": {"datum": "寿都", "type": "nominal", "bandPosition": 1}
              }
            },
            {
              "data": {"values": [{"label": "付着期"}]},
              "mark": {"type": "text", "fontSize": 13, "color": "#333", "align": "center", "baseline": "middle"},
              "encoding": {
                "x": {"datum": {"year": 2012, "month": 6, "date": 1, "hours": 17}, "type": "temporal",
                  "axis": {"title": null, "values": [{"year": 2012, "month": 4, "date": 20}, {"year": 2012, "month": 4, "date": 22}, {"year": 2012, "month": 4, "date": 24}, {"year": 2012, "month": 4, "date": 26}, {"year": 2012, "month": 4, "date": 28}, {"year": 2012, "month": 4, "date": 30}, {"year": 2012, "month": 5, "date": 2}, {"year": 2012, "month": 5, "date": 4}, {"year": 2012, "month": 5, "date": 6}, {"year": 2012, "month": 5, "date": 8}, {"year": 2012, "month": 5, "date": 10}, {"year": 2012, "month": 5, "date": 12}, {"year": 2012, "month": 5, "date": 14}, {"year": 2012, "month": 5, "date": 16}, {"year": 2012, "month": 5, "date": 18}, {"year": 2012, "month": 5, "date": 20}, {"year": 2012, "month": 5, "date": 22}, {"year": 2012, "month": 5, "date": 24}, {"year": 2012, "month": 5, "date": 26}, {"year": 2012, "month": 5, "date": 28}, {"year": 2012, "month": 5, "date": 30}, {"year": 2012, "month": 6, "date": 1}, {"year": 2012, "month": 6, "date": 3}, {"year": 2012, "month": 6, "date": 5}, {"year": 2012, "month": 6, "date": 7}, {"year": 2012, "month": 6, "date": 9}, {"year": 2012, "month": 6, "date": 11}, {"year": 2012, "month": 6, "date": 13}, {"year": 2012, "month": 6, "date": 15}, {"year": 2012, "month": 6, "date": 17}, {"year": 2012, "month": 6, "date": 19}], "labelExpr": "indexof(['04/20','04/30','05/10','05/20','05/30','06/09','06/19'], timeFormat(datum.value, '%m/%d')) >= 0 ? timeFormat(datum.value, '%Y/%m/%d') : ''", "tickSize": {"condition": {"test": "indexof(['04/20','04/30','05/10','05/20','05/30','06/09','06/19'], timeFormat(datum.value, '%m/%d')) >= 0", "value": 7}, "value": 4}, "labelAngle": 270, "labelFontSize": 12, "labelPadding": 3, "labelOverlap": false, "labelFlush": false, "labelBound": false}
                },
                "y": {"datum": "寿都", "type": "nominal"},
                "text": {"field": "label"}
              }
            }
          ]
        },
        {
          "data": {"values": [{"v": 0}, {"v": 100}]},
          "mark": {"type": "rule", "opacity": 0},
          "encoding": {
            "x": {"field": "v", "type": "quantitative",
              "scale": {"type": "sqrt", "domain": [0, 100], "range": [353, 423], "nice": false},
              "axis": {
                "orient": "bottom", "offset": -88, "title": null,
                "values": [0, 10, 20, 30, 40, 50, 60, 70, 80, 90, 100],
                "labelExpr": "datum.value == 0 || datum.value == 50 || datum.value == 100 ? datum.label : ''",
                "tickSize": -5,
                "labelPadding": 18,
                "labelFontSize": 12,
                "labelColor": "#222",
                "labelFlush": false,
                "labelOverlap": false,
                "domainColor": "#000",
                "tickColor": "#000"
              }
            }
          }
        }
      ],
      "resolve": {"scale": {"x": "independent"}, "axis": {"x": "independent"}}
    },
    {
      "width": 446,
      "height": 227,
      "view": {"stroke": "#000", "strokeWidth": 1},
      "data": {"name": "temp"},
      "mark": {"type": "line", "interpolate": "monotone", "strokeWidth": 1},
      "encoding": {
        "x": {"field": "t", "type": "temporal",
          "scale": {"domain": [{"year": 2012, "month": 4, "date": 20}, {"year": 2012, "month": 6, "date": 19}], "nice": false},
          "axis": {
            "title": null, "labels": false,
            "values": [
              {"year": 2012, "month": 4, "date": 20}, {"year": 2012, "month": 4, "date": 22}, {"year": 2012, "month": 4, "date": 24}, {"year": 2012, "month": 4, "date": 26}, {"year": 2012, "month": 4, "date": 28}, {"year": 2012, "month": 4, "date": 30},
              {"year": 2012, "month": 5, "date": 2}, {"year": 2012, "month": 5, "date": 4}, {"year": 2012, "month": 5, "date": 6}, {"year": 2012, "month": 5, "date": 8}, {"year": 2012, "month": 5, "date": 10}, {"year": 2012, "month": 5, "date": 12}, {"year": 2012, "month": 5, "date": 14}, {"year": 2012, "month": 5, "date": 16}, {"year": 2012, "month": 5, "date": 18}, {"year": 2012, "month": 5, "date": 20}, {"year": 2012, "month": 5, "date": 22}, {"year": 2012, "month": 5, "date": 24}, {"year": 2012, "month": 5, "date": 26}, {"year": 2012, "month": 5, "date": 28}, {"year": 2012, "month": 5, "date": 30},
              {"year": 2012, "month": 6, "date": 1}, {"year": 2012, "month": 6, "date": 3}, {"year": 2012, "month": 6, "date": 5}, {"year": 2012, "month": 6, "date": 7}, {"year": 2012, "month": 6, "date": 9}, {"year": 2012, "month": 6, "date": 11}, {"year": 2012, "month": 6, "date": 13}, {"year": 2012, "month": 6, "date": 15}, {"year": 2012, "month": 6, "date": 17}, {"year": 2012, "month": 6, "date": 19}
            ],
            "tickSize": 5
          }
        },
        "y": {"field": "temp", "type": "quantitative",
          "scale": {"domain": [0, 14], "nice": false},
          "axis": {
            "values": [0, 1, 2, 3, 4, 5, 6, 7, 8, 9, 10, 11, 12, 13, 14],
            "labelExpr": "datum.value % 2 == 0 ? datum.label : ''",
            "tickSize": {"condition": {"test": "datum.value % 2 == 0", "value": 6}, "value": 3},
            "title": "Temperature（℃）",
            "titleFontWeight": "normal",
            "titleFontSize": 13,
            "titleColor": "#222",
            "titlePadding": 6,
            "labelFontSize": 13,
            "labelPadding": 3,
            "labelOverlap": false
          }
        },
        "color": {"field": "series", "type": "nominal",
          "scale": {"domain": ["OUMU_Sta.3_10m", "OUMU_Sta.5_10m"], "range": ["#3a3aff", "#ff2a2a"]},
          "legend": {
            "title": null, "orient": "none", "legendX": 288, "legendY": 163,
            "strokeColor": "#000", "fillColor": "#fff", "padding": 6,
            "symbolType": "stroke", "symbolSize": 484, "symbolStrokeWidth": 1.2, "symbolOffset": 4,
            "labelFont": "Liberation Mono", "labelFontSize": 12, "labelColor": "#000",
            "rowPadding": 4, "labelOffset": 12
          }
        }
      }
    }
  ]
}
